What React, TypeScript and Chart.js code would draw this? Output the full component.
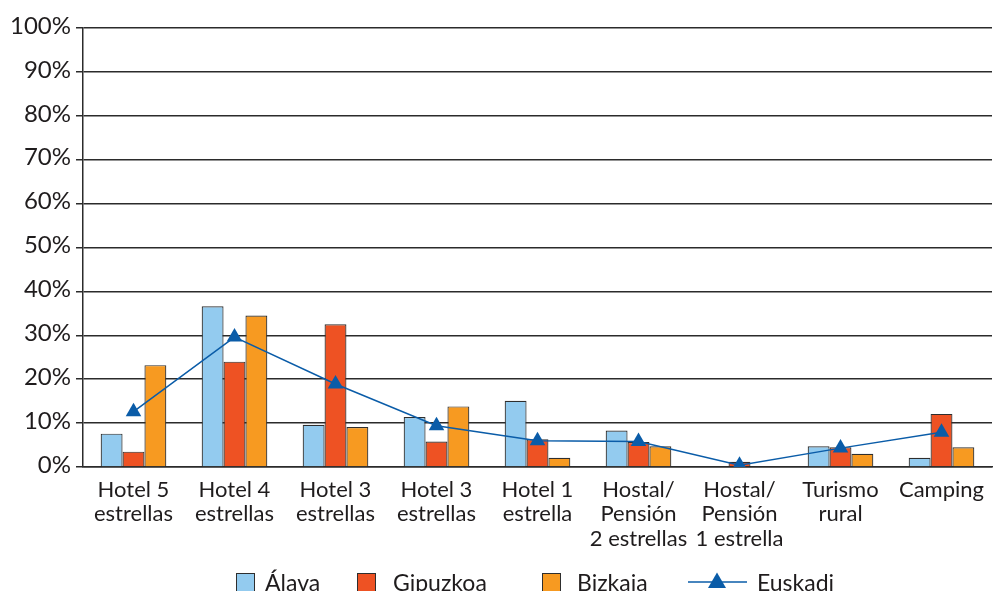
import React, { useEffect, useRef } from "react";
import { Chart, registerables } from "chart.js";

Chart.register(...registerables);

const categories: string[][] = [
  ["Hotel 5", "estrellas"],
  ["Hotel 4", "estrellas"],
  ["Hotel 3", "estrellas"],
  ["Hotel 3", "estrellas"],
  ["Hotel 1", "estrella"],
  ["Hostal/", "Pensión", "2 estrellas"],
  ["Hostal/", "Pensión", "1 estrella"],
  ["Turismo", "rural"],
  ["Camping"],
];

const alava = [7.6, 36.6, 9.6, 11.4, 15.1, 8.3, 0, 4.7, 2.1];
const gipuzkoa = [3.5, 24.0, 32.5, 5.8, 6.3, 5.7, 1.2, 4.5, 12.1];
const bizkaia = [23.2, 34.5, 9.1, 13.8, 2.1, 4.7, 0, 3.0, 4.5];
const euskadi = [12.6, 29.6, 18.9, 9.4, 6.0, 5.8, 0.4, 4.3, 7.9];

const seriesNames = ["Álava", "Gipuzkoa", "Bizkaia", "Euskadi"];
const yTicks = [0, 10, 20, 30, 40, 50, 60, 70, 80, 90, 100];

const COLORS = {
  alava: "#93CBEF",
  gipuzkoa: "#EE5223",
  bizkaia: "#F79A21",
  euskadi: "#0A5CA8",
  border: "#2e2e2e",
  grid: "#2b2b2b",
  text: "#1f1c1d",
};

const FONT = "Lato";

const legendPlugin = {
  id: "customLegend",
  afterDraw(chart: any) {
    const ctx = chart.ctx as CanvasRenderingContext2D;
    ctx.save();
    ctx.font = `23px ${FONT}`;
    ctx.fillStyle = COLORS.text;
    ctx.textBaseline = "alphabetic";
    const baseY = 591;
    const boxes = [
      { x: 236, tx: 265, color: COLORS.alava, label: seriesNames[0] },
      { x: 357, tx: 393, color: COLORS.gipuzkoa, label: seriesNames[1] },
      { x: 542, tx: 577, color: COLORS.bizkaia, label: seriesNames[2] },
    ];
    for (const b of boxes) {
      ctx.fillStyle = b.color;
      ctx.fillRect(b.x, 573, 18, 20);
      ctx.strokeStyle = COLORS.border;
      ctx.lineWidth = 1;
      ctx.strokeRect(b.x + 0.5, 573.5, 18, 20);
      ctx.fillStyle = COLORS.text;
      ctx.fillText(b.label, b.tx, baseY);
    }
    // Euskadi: line with triangle
    ctx.strokeStyle = COLORS.euskadi;
    ctx.lineWidth = 1.5;
    ctx.beginPath();
    ctx.moveTo(688, 582);
    ctx.lineTo(747, 582);
    ctx.stroke();
    ctx.fillStyle = COLORS.euskadi;
    ctx.beginPath();
    ctx.moveTo(717, 572.5);
    ctx.lineTo(726, 588);
    ctx.lineTo(708, 588);
    ctx.closePath();
    ctx.fill();
    ctx.fillStyle = COLORS.text;
    ctx.fillText(seriesNames[3], 757, baseY);
    ctx.restore();
  },
};

export default function App() {
  const canvasRef = useRef<HTMLCanvasElement | null>(null);

  useEffect(() => {
    let chart: Chart | null = null;
    let cancelled = false;

    const build = () => {
      if (cancelled || !canvasRef.current) return;
      Chart.defaults.font.family = FONT;
      Chart.defaults.color = COLORS.text;
      chart = new Chart(canvasRef.current, {
        type: "bar",
        data: {
          labels: categories,
          datasets: [
            {
              type: "line",
              label: seriesNames[3],
              data: euskadi,
              borderColor: COLORS.euskadi,
              backgroundColor: COLORS.euskadi,
              borderWidth: 1.5,
              pointStyle: "triangle",
              pointRadius: 9,
              pointBorderWidth: 0,
              pointBackgroundColor: COLORS.euskadi,
              tension: 0,
              order: 0,
            } as any,
            {
              label: seriesNames[0],
              data: alava,
              backgroundColor: COLORS.alava,
              borderColor: COLORS.border,
              borderWidth: 1.2,
              order: 1,
            },
            {
              label: seriesNames[1],
              data: gipuzkoa,
              backgroundColor: COLORS.gipuzkoa,
              borderColor: COLORS.border,
              borderWidth: 1.2,
              order: 1,
            },
            {
              label: seriesNames[2],
              data: bizkaia,
              backgroundColor: COLORS.bizkaia,
              borderColor: COLORS.border,
              borderWidth: 1.2,
              order: 1,
            },
          ],
        },
        options: {
          animation: false,
          responsive: false,
          devicePixelRatio: 1,
          layout: { padding: { top: 28, right: 0, left: 0, bottom: 0 } },
          datasets: {
            bar: { categoryPercentage: 0.65, barPercentage: 1 },
          } as any,
          plugins: {
            legend: { display: false },
            tooltip: { enabled: false },
            title: { display: false },
          },
          scales: {
            x: {
              offset: true,
              grid: { display: false, drawTicks: false },
              border: { display: true, color: COLORS.grid, width: 1.5 },
              ticks: {
                font: { family: FONT, size: 22, lineHeight: 1.1 },
                color: COLORS.text,
                padding: 11,
                maxRotation: 0,
                autoSkip: false,
              },
              afterFit(scale: any) {
                scale.height = 124;
              },
            },
            y: {
              min: 0,
              max: 100,
              afterBuildTicks(scale: any) {
                scale.ticks = yTicks.map((v) => ({ value: v }));
              },
              grid: {
                color: COLORS.grid,
                lineWidth: 1.5,
                drawTicks: true,
                tickLength: 7,
                tickColor: COLORS.grid,
              },
              border: { display: true, color: COLORS.grid, width: 1.5 },
              ticks: {
                font: { family: FONT, size: 24 },
                color: COLORS.text,
                padding: 5,
                labelOffset: -2,
                callback: (v: any) => `${v}%`,
              },
              afterFit(scale: any) {
                scale.width = 83;
              },
            },
          },
        },
        plugins: [legendPlugin],
      });
    };

    const fonts: any = (document as any).fonts;
    if (fonts && fonts.load) {
      fonts.load(`22px ${FONT}`).then(build, build);
    } else {
      build();
    }

    return () => {
      cancelled = true;
      if (chart) chart.destroy();
    };
  }, []);

  return (
    <div
      style={{
        position: "absolute",
        left: 0,
        top: 0,
        width: 1001,
        height: 591,
        background: "#ffffff",
        overflow: "hidden",
      }}
    >
      <canvas ref={canvasRef} width={1001} height={591} style={{ display: "block" }} />
    </div>
  );
}
